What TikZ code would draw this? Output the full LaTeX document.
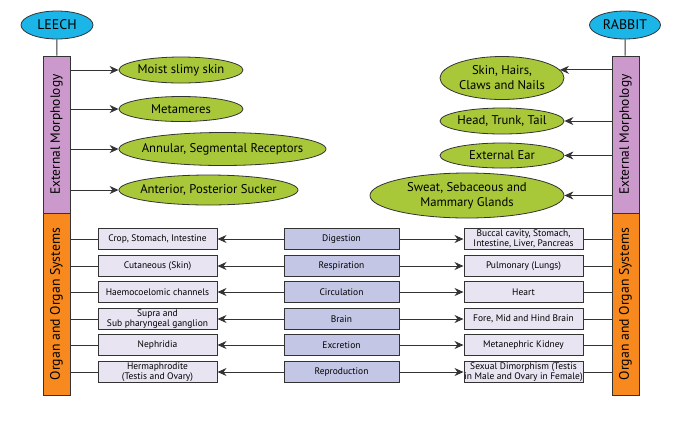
\documentclass[tikz,border=0pt]{standalone}
\usepackage{fontspec}
\setmainfont{PT Sans}
\usetikzlibrary{shapes.geometric,arrows.meta}
\definecolor{cyanc}{HTML}{1CB5E8}
\definecolor{purc}{HTML}{CC99CC}
\definecolor{orc}{HTML}{F7891F}
\definecolor{grc}{HTML}{A8C83A}
\definecolor{boxc}{HTML}{E8E4F2}
\definecolor{midc}{HTML}{C4C6E6}
\definecolor{linec}{HTML}{333333}
\tikzset{
  title/.style={ellipse,draw=linec,line width=0.8bp,fill=cyanc,inner sep=0,minimum width=72bp,minimum height=28bp,font=\fontsize{14}{14}\selectfont},
  feat/.style={ellipse,draw=linec,line width=0.8bp,fill=grc,inner sep=0},
  ftxt/.style={inner sep=0,align=center,font=\fontsize{12.7}{15}\selectfont},
  barp/.style={rectangle,draw=linec,line width=0.9bp,fill=purc,inner sep=0,minimum width=27bp,minimum height=157bp,font=\fontsize{13.5}{14}\selectfont},
  baro/.style={rectangle,draw=linec,line width=0.9bp,fill=orc,inner sep=0,minimum width=27bp,minimum height=182bp,font=\fontsize{13.8}{14}\selectfont},
  sbox/.style={rectangle,draw=linec,line width=1bp,fill=boxc,inner sep=0,minimum width=119bp,minimum height=21.5bp,align=center,font=\fontsize{9.5}{10}\selectfont},
  mbox/.style={rectangle,draw=linec,line width=1bp,fill=midc,inner sep=0,minimum width=115bp,minimum height=21.5bp,align=center,font=\fontsize{9.5}{10}\selectfont},
  ln/.style={draw=linec,line width=0.9bp},
  arr/.style={ln,-{Stealth[length=9bp,width=8bp]}}
}
\begin{document}
\begin{tikzpicture}[x=1bp,y=-1bp]
\useasboundingbox (0,0) rectangle (675,421);
% titles
\node[title] (leech) at (57,25) {LEECH};
\node[title,minimum width=71bp] (rabbit) at (625,25) {RABBIT};
% bars
\node[barp] (lp) at (56.5,134.5) {\rotatebox{90}{External Morphology}};
\node[baro] (lo) at (56.5,304) {\rotatebox{90}{Organ and Organ Systems}};
\node[barp] (rp) at (625.5,134.5) {\rotatebox{90}{External Morphology}};
\node[baro] (ro) at (625.5,304) {\rotatebox{90}{Organ and Organ Systems}};
\draw[ln] (leech) -- (lp);
\draw[ln] (rabbit) -- (rp);
% leech features
\node[feat,minimum width=124bp,minimum height=26bp] (l1) at (181,70) {};
\node[ftxt] (l1t) at (l1) {Moist slimy skin};
\node[feat,minimum width=124bp,minimum height=25bp] (l2) at (181,109) {};
\node[ftxt] (l2t) at (l2) {Metameres};
\node[feat,minimum width=207bp,minimum height=33bp] (l3) at (222.5,149) {};
\node[ftxt] (l3t) at (l3) {Annular, Segmental Receptors};
\node[feat,minimum width=179bp,minimum height=30bp] (l4) at (208.5,190) {};
\node[ftxt] (l4t) at (l4) {Anterior, Posterior Sucker};
\foreach \n in {l1,l2,l3,l4} \draw[arr] (lp.east |- \n.west) -- (\n.west);
% rabbit features
\node[feat,minimum width=124bp,minimum height=43bp] (r1) at (502,78) {};
\node[ftxt] (r1t) at (r1) {Skin, Hairs,\\Claws and Nails};
\node[feat,minimum width=124bp,minimum height=26bp] (r2) at (502,121) {};
\node[ftxt] (r2t) at (r2) {Head, Trunk, Tail};
\node[feat,minimum width=124bp,minimum height=25bp] (r3) at (502,155.5) {};
\node[ftxt] (r3t) at (r3) {External Ear};
\node[feat,minimum width=194bp,minimum height=45bp] (r4) at (467,195.5) {};
\node[ftxt] (r4t) at (r4) {Sweat, Sebaceous and\\Mammary Glands};
\draw[arr] (rp.west |- r1.8) -- (r1.8);
\foreach \n in {r2,r3,r4} \draw[arr] (rp.west |- \n.east) -- (\n.east);
% organ systems
\foreach \i/\y/\a/\m/\b in {
  1/239/{Crop, Stomach, Intestine}/Digestion/{Buccal cavity, Stomach,\\Intestine, Liver, Pancreas},
  2/266/{Cutaneous (Skin)}/Respiration/{Pulmonary (Lungs)},
  3/292/{Haemocoelomic channels}/Circulation/Heart,
  4/319/{Supra and\\Sub pharyngeal ganglion}/Brain/{Fore, Mid and Hind Brain},
  5/345/Nephridia/Excretion/{Metanephric Kidney},
  6/372/{Hermaphrodite\\(Testis and Ovary)}/Reproduction/{Sexual Dimorphism (Testis\\in Male and Ovary in Female)}}
{
  \node[sbox] (a\i) at (157.5,\y) {\a};
  \node[mbox] (m\i) at (341.5,\y) {\m};
  \node[sbox] (b\i) at (523.5,\y) {\b};
  \draw[ln] (lo.east |- a\i.west) -- (a\i.west);
  \draw[arr] (m\i.west) -- (a\i.east);
  \draw[arr] (m\i.east) -- (b\i.west);
  \draw[ln] (b\i.east) -- (ro.west |- b\i.east);
}
\end{tikzpicture}
\end{document}
